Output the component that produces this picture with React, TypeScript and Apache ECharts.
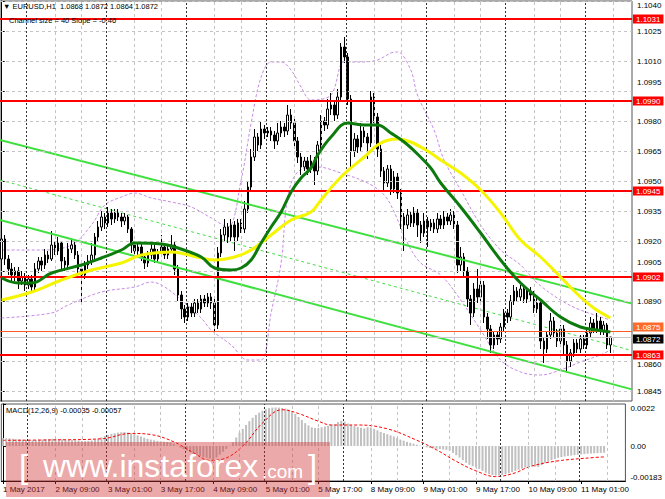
import React, { useEffect, useRef } from 'react';
import * as echarts from 'echarts';

const FONT = "'Liberation Sans', 'DejaVu Sans', sans-serif";
const SLOTS = 190;

// [open, close, low, high] per H1 bar
const candles: number[][] = [
  [1.0911,1.0921,1.0908,1.0924],[1.0921,1.0911,1.0908,1.0923],[1.0911,1.0906,1.0903,1.0913],[1.0906,1.0903,1.0899,1.0909],
  [1.0903,1.0905,1.0900,1.0907],[1.0905,1.0900,1.0896,1.0907],[1.0900,1.0902,1.0898,1.0905],[1.0902,1.0898,1.0895,1.0904],
  [1.0898,1.0901,1.0896,1.0903],[1.0901,1.0897,1.0894,1.0903],[1.0897,1.0906,1.0895,1.0909],[1.0906,1.0910,1.0904,1.0912],
  [1.0910,1.0908,1.0905,1.0912],[1.0908,1.0913,1.0906,1.0916],[1.0913,1.0911,1.0909,1.0915],[1.0911,1.0918,1.0910,1.0925],
  [1.0918,1.0915,1.0913,1.0920],[1.0915,1.0919,1.0913,1.0922],[1.0919,1.0910,1.0906,1.0920],[1.0910,1.0908,1.0905,1.0912],
  [1.0908,1.0916,1.0906,1.0919],[1.0916,1.0918,1.0914,1.0921],[1.0918,1.0913,1.0911,1.0920],[1.0913,1.0906,1.0903,1.0915],
  [1.0906,1.0903,1.0888,1.0908],[1.0903,1.0908,1.0901,1.0910],[1.0908,1.0910,1.0906,1.0913],[1.0910,1.0913,1.0908,1.0919],
  [1.0913,1.0922,1.0911,1.0924],[1.0922,1.0927,1.0920,1.0930],[1.0927,1.0932,1.0925,1.0935],[1.0932,1.0929,1.0926,1.0934],
  [1.0929,1.0934,1.0927,1.0937],[1.0934,1.0931,1.0928,1.0936],[1.0931,1.0934,1.0929,1.0936],[1.0934,1.0932,1.0930,1.0936],
  [1.0932,1.0930,1.0927,1.0934],[1.0930,1.0932,1.0928,1.0934],[1.0932,1.0926,1.0924,1.0933],[1.0926,1.0918,1.0914,1.0927],
  [1.0918,1.0915,1.0912,1.0920],[1.0915,1.0917,1.0913,1.0919],[1.0917,1.0912,1.0910,1.0919],[1.0912,1.0909,1.0906,1.0914],
  [1.0909,1.0913,1.0907,1.0915],[1.0913,1.0916,1.0911,1.0919],[1.0916,1.0911,1.0909,1.0918],[1.0911,1.0914,1.0909,1.0916],
  [1.0914,1.0917,1.0912,1.0923],[1.0917,1.0913,1.0911,1.0919],[1.0913,1.0916,1.0911,1.0918],[1.0916,1.0918,1.0914,1.0923],
  [1.0918,1.0906,1.0903,1.0920],[1.0906,1.0893,1.0890,1.0908],[1.0893,1.0886,1.0881,1.0895],[1.0886,1.0882,1.0879,1.0888],
  [1.0882,1.0887,1.0880,1.0889],[1.0887,1.0884,1.0882,1.0889],[1.0884,1.0889,1.0882,1.0891],[1.0889,1.0886,1.0884,1.0891],
  [1.0886,1.0891,1.0884,1.0893],[1.0891,1.0889,1.0887,1.0893],[1.0889,1.0892,1.0887,1.0894],[1.0892,1.0889,1.0886,1.0894],
  [1.0889,1.0878,1.0874,1.0891],[1.0878,1.0914,1.0876,1.0917],[1.0914,1.0923,1.0912,1.0926],[1.0923,1.0927,1.0920,1.0931],
  [1.0927,1.0922,1.0919,1.0929],[1.0922,1.0928,1.0920,1.0931],[1.0928,1.0922,1.0915,1.0930],[1.0922,1.0929,1.0920,1.0931],
  [1.0929,1.0926,1.0924,1.0931],[1.0926,1.0936,1.0924,1.0940],[1.0936,1.0947,1.0934,1.0950],[1.0947,1.0962,1.0945,1.0966],
  [1.0962,1.0972,1.0960,1.0976],[1.0972,1.0968,1.0965,1.0974],[1.0968,1.0976,1.0966,1.0980],[1.0976,1.0974,1.0971,1.0978],
  [1.0974,1.0975,1.0972,1.0977],[1.0975,1.0973,1.0970,1.0977],[1.0973,1.0970,1.0966,1.0975],[1.0970,1.0974,1.0968,1.0979],
  [1.0974,1.0977,1.0972,1.0980],[1.0977,1.0975,1.0972,1.0979],[1.0975,1.0983,1.0973,1.0988],[1.0983,1.0979,1.0976,1.0986],
  [1.0979,1.0970,1.0966,1.0981],[1.0970,1.0962,1.0959,1.0972],[1.0962,1.0957,1.0953,1.0964],[1.0957,1.0960,1.0955,1.0962],
  [1.0960,1.0956,1.0953,1.0962],[1.0956,1.0960,1.0954,1.0963],[1.0960,1.0955,1.0948,1.0962],[1.0955,1.0968,1.0953,1.0970],
  [1.0968,1.0980,1.0966,1.0983],[1.0980,1.0978,1.0975,1.0982],[1.0978,1.0986,1.0976,1.0991],[1.0986,1.0988,1.0983,1.0994],
  [1.0988,1.0983,1.0980,1.0990],[1.0983,1.0992,1.0981,1.0996],[1.0992,1.1017,1.0990,1.1019],[1.1017,1.1012,1.1009,1.1022],
  [1.1012,1.0991,1.0988,1.1014],[1.0991,1.0965,1.0956,1.0993],[1.0965,1.0971,1.0962,1.0974],[1.0971,1.0967,1.0964,1.0973],
  [1.0967,1.0975,1.0965,1.0979],[1.0975,1.0972,1.0969,1.0977],[1.0972,1.0969,1.0961,1.0974],[1.0969,1.0992,1.0967,1.0995],
  [1.0992,1.0982,1.0979,1.0994],[1.0982,1.0966,1.0962,1.0984],[1.0966,1.0955,1.0952,1.0968],[1.0955,1.0949,1.0945,1.0957],
  [1.0949,1.0956,1.0947,1.0958],[1.0956,1.0946,1.0943,1.0958],[1.0946,1.0952,1.0944,1.0955],[1.0952,1.0944,1.0941,1.0954],
  [1.0944,1.0932,1.0926,1.0946],[1.0932,1.0928,1.0915,1.0934],[1.0928,1.0933,1.0926,1.0936],[1.0933,1.0929,1.0927,1.0935],
  [1.0929,1.0934,1.0927,1.0937],[1.0934,1.0928,1.0922,1.0936],[1.0928,1.0924,1.0919,1.0930],[1.0924,1.0930,1.0922,1.0934],
  [1.0930,1.0927,1.0917,1.0932],[1.0927,1.0929,1.0925,1.0931],[1.0929,1.0926,1.0924,1.0931],[1.0926,1.0931,1.0924,1.0934],
  [1.0931,1.0928,1.0926,1.0933],[1.0928,1.0932,1.0926,1.0935],[1.0932,1.0930,1.0928,1.0934],[1.0930,1.0933,1.0928,1.0936],
  [1.0933,1.0928,1.0926,1.0935],[1.0928,1.0908,1.0904,1.0930],[1.0908,1.0912,1.0905,1.0917],[1.0912,1.0905,1.0902,1.0914],
  [1.0905,1.0891,1.0887,1.0907],[1.0891,1.0884,1.0878,1.0893],[1.0884,1.0896,1.0882,1.0899],[1.0896,1.0892,1.0889,1.0906],
  [1.0892,1.0898,1.0890,1.0902],[1.0898,1.0882,1.0879,1.0900],[1.0882,1.0876,1.0871,1.0884],[1.0876,1.0868,1.0864,1.0878],
  [1.0868,1.0873,1.0866,1.0875],[1.0873,1.0871,1.0868,1.0875],[1.0871,1.0877,1.0869,1.0879],[1.0877,1.0884,1.0875,1.0886],
  [1.0884,1.0882,1.0879,1.0886],[1.0882,1.0890,1.0880,1.0893],[1.0890,1.0895,1.0888,1.0898],[1.0895,1.0892,1.0890,1.0897],
  [1.0892,1.0896,1.0890,1.0898],[1.0896,1.0891,1.0889,1.0898],[1.0891,1.0895,1.0889,1.0897],[1.0895,1.0893,1.0890,1.0897],
  [1.0893,1.0886,1.0884,1.0895],[1.0886,1.0889,1.0884,1.0893],[1.0889,1.0870,1.0866,1.0891],[1.0870,1.0866,1.0859,1.0872],
  [1.0866,1.0873,1.0864,1.0875],[1.0873,1.0880,1.0871,1.0884],[1.0880,1.0874,1.0872,1.0882],[1.0874,1.0870,1.0867,1.0876],
  [1.0870,1.0876,1.0868,1.0878],[1.0876,1.0868,1.0863,1.0878],[1.0868,1.0860,1.0855,1.0870],[1.0860,1.0864,1.0857,1.0866],
  [1.0864,1.0869,1.0862,1.0871],[1.0869,1.0866,1.0864,1.0871],[1.0866,1.0871,1.0864,1.0873],[1.0871,1.0868,1.0866,1.0873],
  [1.0868,1.0874,1.0866,1.0876],[1.0874,1.0879,1.0872,1.0882],[1.0879,1.0876,1.0874,1.0881],[1.0876,1.0880,1.0874,1.0884],
  [1.0880,1.0875,1.0873,1.0882],[1.0875,1.0878,1.0873,1.0880],[1.0878,1.0868,1.0866,1.0879],[1.0868,1.0872,1.0864,1.0872],
];

// moving averages read at sampled bars: [bar index, price]
const greenMA: number[][] = [
  [0,1.09015],[5,1.0899],[9,1.0899],[15,1.0904],[24,1.0908],[30,1.09115],[36,1.09155],[40,1.0919],[48,1.09185],
  [52,1.0917],[60,1.0912],[64,1.09065],[69,1.09055],[72,1.09065],[75,1.09105],[78,1.0919],[81,1.0927],[84,1.09345],
  [87,1.09445],[90,1.09515],[93,1.09565],[95,1.0963],[99,1.0972],[104,1.0979],[109,1.0978],[113,1.0978],[117,1.0974],
  [121,1.09695],[125,1.09635],[129,1.09565],[132,1.0949],[138,1.0937],[144,1.0924],[150,1.09105],[156,1.0899],
  [162,1.08905],[168,1.0882],[174,1.0877],[179,1.08755],[183,1.08745],
];
const yellowMA: number[][] = [
  [0,1.08905],[9,1.08945],[18,1.09005],[27,1.09055],[36,1.0909],[42,1.0913],[51,1.09145],[55,1.09135],[60,1.09115],
  [64,1.09105],[70,1.0912],[75,1.09155],[81,1.0923],[87,1.09305],[93,1.09345],[96,1.09405],[102,1.0952],[109,1.0962],
  [114,1.0969],[119,1.0971],[123,1.09695],[129,1.0964],[132,1.09605],[138,1.0954],[144,1.09455],[150,1.0934],
  [156,1.09205],[162,1.0912],[168,1.0902],[174,1.0892],[178,1.08865],[183,1.08815],
];
const bandUpper: number[][] = [
  [0,1.09155],[12,1.09155],[21,1.0918],[27,1.0928],[31,1.0938],[36,1.0942],[40,1.0944],[45,1.09415],[51,1.09395],
  [57,1.0937],[63,1.09315],[68,1.0927],[72,1.09505],[75,1.0979],[78,1.1002],[81,1.10095],[84,1.10095],[87,1.10055],
  [90,1.0997],[93,1.09905],[99,1.0993],[103,1.10095],[108,1.10095],[113,1.10105],[117,1.1014],[119,1.10145],
  [123,1.10055],[125,1.0993],[130,1.09755],[133,1.09605],[138,1.09455],[144,1.0928],[150,1.09155],[156,1.0908],
  [161,1.0899],[168,1.08905],[174,1.08855],[183,1.08805],
];
const bandLower: number[][] = [
  [0,1.08815],[15,1.0884],[20,1.0888],[30,1.08945],[40,1.0897],[45,1.08995],[49,1.0897],[54,1.08905],[60,1.08815],
  [63,1.08755],[69,1.0868],[74,1.08605],[78,1.08605],[81,1.0884],[84,1.0909],[86,1.0942],[89,1.09545],[95,1.0957],
  [102,1.0954],[110,1.0949],[115,1.0943],[118,1.09345],[122,1.0919],[126,1.0909],[132,1.0903],[138,1.08905],
  [144,1.08755],[150,1.08605],[156,1.08545],[162,1.0853],[168,1.08555],[174,1.08595],[180,1.0863],[183,1.08655],
];

const channelUpper: number[][] = [[-0.5,1.09705],[189.5,1.08887]];
const channelMiddle: number[][] = [[-0.5,1.09505],[189.5,1.08652]];
const channelLower: number[][] = [[-0.5,1.09305],[189.5,1.08458]];

const levels = [1.1031, 1.0990, 1.0945, 1.0902, 1.0863];
const askLine = 1.0875;
const bidLine = 1.0872;

const priceTicks = [1.0845,1.0860,1.0875,1.0890,1.0905,1.0920,1.0935,1.0950,1.0965,1.0980,1.0995,1.1010,1.1025,1.1040];
// tick labels (1.0875 sits under the ask label, as in the terminal)
const priceLabelTicks = [1.0845,1.0860,1.0890,1.0905,1.0920,1.0935,1.0950,1.0965,1.0980,1.0995,1.1010,1.1025,1.1040];
const liftedTicks = ['1.0905', '1.0995'];
const loweredTicks = ['1.0860'];
const macdTicks = [-0.00183, 0, 0.0022];

const macdHist = [
  0.00042,0.00041,0.00040,0.00038,0.00036,0.00035,0.00033,0.00032,0.00031,0.00030,
  0.00031,0.00033,0.00034,0.00036,0.00037,0.00038,0.00038,0.00037,0.00035,0.00033,
  0.00032,0.00031,0.00030,0.00028,0.00026,0.00026,0.00027,0.00029,0.00033,0.00038,
  0.00045,0.00052,0.00058,0.00063,0.00067,0.00070,0.00072,0.00073,0.00071,0.00067,
  0.00062,0.00056,0.00050,0.00044,0.00038,0.00034,0.00030,0.00027,0.00025,0.00023,
  0.00021,0.00020,0.00012,0.00002,
  -0.00008,-0.00016,-0.00024,-0.00032,-0.00040,-0.00046,-0.00052,-0.00058,-0.00062,-0.00066,-0.00072,-0.00060,-0.00045,-0.00030,-0.00015,
  0.00002,
  0.00020,0.00045,0.00070,0.00090,0.00110,0.00130,0.00148,0.00162,0.00175,0.00185,
  0.00193,0.00198,0.00201,0.00202,0.00201,0.00199,0.00196,0.00190,0.00180,0.00168,
  0.00152,0.00136,0.00120,0.00108,0.00098,0.00094,0.00095,0.00098,0.00102,0.00106,
  0.00110,0.00114,0.00125,0.00132,0.00128,0.00118,0.00110,0.00104,0.00100,0.00096,
  0.00092,0.00098,0.00097,0.00090,0.00082,0.00074,0.00068,0.00062,0.00056,0.00050,
  0.00042,0.00034,0.00028,0.00022,0.00017,0.00012,0.00007,0.00002,-0.00003,-0.00007,
  -0.00010,-0.00012,-0.00014,-0.00016,-0.00018,-0.00020,-0.00024,-0.00036,-0.00048,-0.00060,
  -0.00074,-0.00088,-0.00098,-0.00106,-0.00112,-0.00120,-0.00130,-0.00140,-0.00148,-0.00152,
  -0.00154,-0.00154,-0.00152,-0.00148,-0.00142,-0.00136,-0.00130,-0.00124,-0.00118,-0.00112,
  -0.00108,-0.00104,-0.00108,-0.00110,-0.00100,
  -0.00090,-0.00082,-0.00074,-0.00068,-0.00062,
  -0.00058,-0.00055,-0.00052,-0.00050,-0.00048,-0.00046,-0.00044,-0.00042,-0.00040,-0.00039,-0.00038,-0.00037,-0.00036,-0.00035,
];
const macdSignal: number[][] = [
  [0,0.00030],[15,0.00032],[30,0.00038],[39,0.00066],[45,0.00060],[52,0.00022],[58,-0.00035],[63,-0.00075],
  [67,-0.00068],[73,0.0],[79,0.0012],[85,0.0019],[90,0.0017],[96,0.0013],[100,0.0011],[108,0.0011],[117,0.0009],
  [126,0.0003],[132,-0.0002],[138,-0.0008],[144,-0.0013],[150,-0.0016],[156,-0.0014],[160,-0.0011],[168,-0.0008],
  [180,-0.0006],[183,-0.00057],
];

const timeLabelIdx = [0,16,32,48,64,80,96,112,128,144,160,176];
const timeLabels = ['1 May 2017','2 May 09:00','3 May 01:00','3 May 17:00','4 May 09:00','5 May 01:00',
  '5 May 17:00','8 May 09:00','9 May 01:00','9 May 17:00','10 May 09:00','11 May 01:00'];
const gridIdx = [16,24,40,48,64,72,88,96,112,120,136,144,160,168,184];
const daySeparators = [7.5,31.5,55.5,79.5,103.5,127.5,151.5,175.5];

function vLines() {
  return [
    ...gridIdx.map((v) => ({ xAxis: v, lineStyle: { color: '#c4c4c4', type: [3, 3], width: 1 } })),
    ...daySeparators.map((v) => ({ xAxis: v, lineStyle: { color: '#333', type: [2, 2], width: 1 } })),
  ];
}

function priceLabel(v: number, bg: string, dy = 0) {
  return {
    show: true, position: 'end', distance: 1, formatter: v.toFixed(4), backgroundColor: bg,
    color: '#fff', fontSize: 8, padding: [1, 3, 0, 3], fontFamily: FONT, offset: [0, dy],
  };
}

export default function App() {
  const ref = useRef<HTMLDivElement>(null);
  useEffect(() => {
    if (!ref.current) return;
    const chart = echarts.init(ref.current, undefined, { renderer: 'svg' });
    const slots = Array.from({ length: SLOTS }, (_, i) => String(i));
    const noLabel = { show: false };
    const option: any = {
      animation: false,
      backgroundColor: '#fff',
      textStyle: { fontFamily: FONT },
      grid: [
        { left: 0, top: 1, width: 632, height: 400, show: true, borderColor: '#555', borderWidth: 1 },
        { left: 0, top: 404, width: 632, height: 77, show: true, borderColor: '#555', borderWidth: 1 },
      ],
      xAxis: [
        { type: 'category', gridIndex: 0, data: slots, boundaryGap: true, show: false },
        { type: 'value', gridIndex: 0, min: -0.5, max: SLOTS - 0.5, show: false },
        {
          type: 'value', gridIndex: 1, min: -0.5, max: SLOTS - 0.5, position: 'bottom',
          axisLine: { show: true, onZero: false, lineStyle: { color: '#000' } },
          axisTick: { show: true, customValues: timeLabelIdx, length: 3, lineStyle: { color: '#000' } },
          axisLabel: {
            customValues: timeLabelIdx, align: 'left', fontSize: 8, color: '#000', margin: 4, fontFamily: FONT,
            formatter: (v: number) => timeLabels[timeLabelIdx.indexOf(Math.round(v))] ?? '',
          },
          splitLine: { show: false },
        },
      ],
      yAxis: [
        {
          type: 'value', gridIndex: 0, position: 'right', min: 1.084, max: 1.104,
          axisLine: { show: true, lineStyle: { color: '#000' } },
          axisTick: { show: true, customValues: priceTicks, length: 3, lineStyle: { color: '#000' } },
          axisLabel: {
            customValues: priceLabelTicks, fontSize: 8, color: '#000', margin: 5, fontFamily: FONT,
            formatter: (v: number) => {
              const s = v.toFixed(4);
              if (liftedTicks.includes(s)) return `{up|${s}}`;
              if (loweredTicks.includes(s)) return `{dn|${s}}`;
              return s;
            },
            rich: {
              up: { fontSize: 8, color: '#000', fontFamily: FONT, padding: [0, 0, 18, 0] },
              dn: { fontSize: 8, color: '#000', fontFamily: FONT, padding: [6, 0, 0, 0] },
            },
            verticalAlignMaxLabel: 'top',
          },
          splitLine: { show: false },
        },
        {
          type: 'value', gridIndex: 1, position: 'right', min: -0.00183, max: 0.0022,
          axisLine: { show: true, lineStyle: { color: '#000' } },
          axisTick: { show: true, customValues: macdTicks, length: 3, lineStyle: { color: '#000' } },
          axisLabel: {
            customValues: macdTicks, fontSize: 8, color: '#000', margin: 5, fontFamily: FONT,
            formatter: (v: number) => (v === 0 ? '0.00' : String(v)),
            verticalAlignMaxLabel: 'top', verticalAlignMinLabel: 'bottom',
          },
          splitLine: { show: false },
        },
      ],
      series: [
        {
          name: 'grid-main', type: 'line', xAxisIndex: 1, yAxisIndex: 0, data: [[-5, 1.09]], showSymbol: false, z: 1,
          markLine: {
            silent: true, symbol: ['none', 'none'], label: noLabel, precision: 6,
            data: [
              ...priceTicks.map((v) => ({ yAxis: v, lineStyle: { color: '#c4c4c4', type: [3, 3], width: 1 } })),
              ...vLines(),
            ],
          },
        },
        {
          name: 'grid-macd', type: 'line', xAxisIndex: 2, yAxisIndex: 1, data: [[-5, 0]], showSymbol: false, z: 1,
          markLine: { silent: true, symbol: ['none', 'none'], label: noLabel, precision: 6, data: vLines() },
        },
        {
          name: 'BB upper', type: 'line', xAxisIndex: 1, yAxisIndex: 0, data: bandUpper, showSymbol: false, smooth: 0.35, z: 2,
          lineStyle: { color: '#c78ae6', width: 1, type: [3, 2] },
        },
        {
          name: 'BB lower', type: 'line', xAxisIndex: 1, yAxisIndex: 0, data: bandLower, showSymbol: false, smooth: 0.35, z: 2,
          lineStyle: { color: '#c78ae6', width: 1, type: [3, 2] },
        },
        {
          name: 'channel middle', type: 'line', xAxisIndex: 1, yAxisIndex: 0, data: channelMiddle, showSymbol: false, z: 2,
          lineStyle: { color: '#44dd44', width: 1, type: [3, 3] },
        },
        {
          name: 'levels', type: 'line', xAxisIndex: 1, yAxisIndex: 0, data: [[-5, 1.09]], showSymbol: false, z: 2,
          markLine: {
            silent: true, symbol: ['none', 'none'], precision: 6,
            data: [
              ...levels.map((v) => ({
                yAxis: v, lineStyle: { color: '#ff0000', width: 2, type: 'solid' }, label: priceLabel(v, '#ff0000'),
              })),
              { yAxis: askLine, lineStyle: { color: '#ff5a28', width: 1, type: 'solid' }, label: priceLabel(askLine, '#ff6a2a', -4) },
              { yAxis: bidLine, lineStyle: { color: '#c8c8c8', width: 1, type: 'solid' }, label: priceLabel(bidLine, '#000', 2) },
            ],
          },
        },
        {
          name: 'EURUSD', type: 'candlestick', xAxisIndex: 0, yAxisIndex: 0, data: candles, barWidth: 2, z: 3,
          itemStyle: { color: '#ffffff', color0: '#000000', borderColor: '#000000', borderColor0: '#000000', borderWidth: 1 },
        },
        {
          name: 'channel upper', type: 'line', xAxisIndex: 1, yAxisIndex: 0, data: channelUpper, showSymbol: false, z: 4,
          lineStyle: { color: '#3ee03e', width: 2 },
        },
        {
          name: 'channel lower', type: 'line', xAxisIndex: 1, yAxisIndex: 0, data: channelLower, showSymbol: false, z: 4,
          lineStyle: { color: '#3ee03e', width: 2 },
        },
        {
          name: 'MA slow', type: 'line', xAxisIndex: 1, yAxisIndex: 0, data: yellowMA, showSymbol: false, smooth: 0.4, z: 5,
          lineStyle: { color: '#f5f500', width: 3 },
        },
        {
          name: 'MA fast', type: 'line', xAxisIndex: 1, yAxisIndex: 0, data: greenMA, showSymbol: false, smooth: 0.4, z: 5,
          lineStyle: { color: '#0c7a0c', width: 3 },
        },
        {
          name: 'MACD', type: 'bar', xAxisIndex: 2, yAxisIndex: 1, data: macdHist.map((v, i) => [i, v]), barWidth: 2, z: 3,
          itemStyle: { color: '#c0c0c0' },
        },
        {
          name: 'Signal', type: 'line', xAxisIndex: 2, yAxisIndex: 1, data: macdSignal, showSymbol: false, smooth: 0.4, z: 4,
          lineStyle: { color: '#ff0000', width: 1, type: [3, 2] },
        },
      ],
      graphic: [
        { type: 'text', x: 3, y: 2, z: 50, style: { text: '\u25BC EURUSD,H1  1.0868 1.0872 1.0864 1.0872', font: `7.5px ${FONT}`, fill: '#000' } },
        { type: 'text', x: 9, y: 16, z: 50, style: { text: 'Channel size = 40 Slope = -0.46', font: `7.5px ${FONT}`, fill: '#000' } },
        { type: 'text', x: 6, y: 406, z: 50, style: { text: 'MACD(12,26,9) -0.00035 -0.00057', font: `7.5px ${FONT}`, fill: '#000' } },
        { type: 'rect', z: 60, shape: { x: 6, y: 442, width: 324, height: 55 }, style: { fill: 'rgba(210,50,50,0.42)' } },
        { type: 'text', x: 19, y: 466, z: 61, style: { text: '[', font: `33px ${FONT}`, fill: '#fff', verticalAlign: 'middle' } },
        { type: 'text', x: 43, y: 466, z: 61, style: { text: 'www.instaforex', font: `32px ${FONT}`, fill: '#fff', verticalAlign: 'middle' } },
        { type: 'text', x: 262, y: 471, z: 61, style: { text: '.com', font: `19px ${FONT}`, fill: '#fff', verticalAlign: 'middle' } },
        { type: 'text', x: 308, y: 466, z: 61, style: { text: ']', font: `33px ${FONT}`, fill: '#fff', verticalAlign: 'middle' } },
      ],
    };
    chart.setOption(option);
    return () => chart.dispose();
  }, []);
  return <div ref={ref} style={{ position: 'fixed', left: 0, top: 0, width: 665, height: 499, background: '#fff' }} />;
}
